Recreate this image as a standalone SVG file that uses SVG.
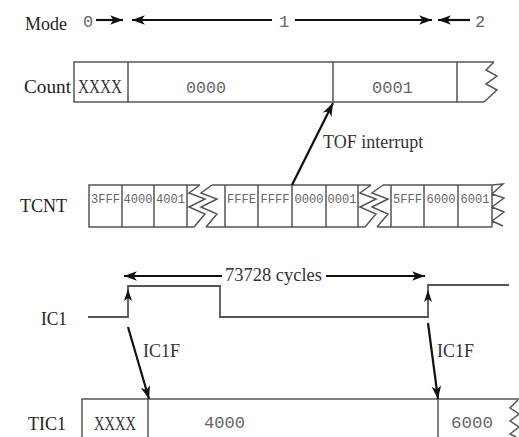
<svg xmlns="http://www.w3.org/2000/svg" width="519" height="437" viewBox="0 0 519 437">
<defs>
<marker id="ah" viewBox="-14 -6 15 12" refX="0" refY="0" markerWidth="15" markerHeight="12" markerUnits="userSpaceOnUse" orient="auto">
<path d="M0,0 L-13,-4.8 L-9.5,0 L-13,4.8 Z" fill="#111"/>
</marker>
</defs>
<style>
.lab{font-family:"Liberation Serif","Times New Roman",serif;font-size:19px;fill:#222}
.ser{font-family:"Liberation Serif","Times New Roman",serif;font-size:18px;fill:#333}
.mono{font-family:"Liberation Mono","Courier New",monospace;font-size:17px;fill:#666}
.sm{font-family:"Liberation Mono","Courier New",monospace;font-size:13px;fill:#666;text-anchor:middle}
.box{fill:none;stroke:#555;stroke-width:1.5}
.arr{fill:none;stroke:#111;stroke-width:2.2;marker-end:url(#ah)}
.wave{fill:none;stroke:#555;stroke-width:1.8}
</style>
<rect width="519" height="437" fill="#fff"/>

<g id="mode">
<text class="lab" x="25" y="30" textLength="42" lengthAdjust="spacingAndGlyphs">Mode</text>
<text class="mono" x="83" y="27" font-size="16">0</text>
<text class="mono" x="279" y="27" font-size="16">1</text>
<text class="mono" x="475" y="27" font-size="16">2</text>
</g>

<g id="count">
<text class="lab" x="24" y="93" textLength="47" lengthAdjust="spacingAndGlyphs">Count</text>
<path class="box" d="M494,62 H74 V102 H484 M128,62 V102 M333,62 V102 M457,62 V102 M494,62 L486,70 L497,76 L486,84 L497,90 L484,102"/>
<text class="ser" x="78" y="93" textLength="44" lengthAdjust="spacingAndGlyphs">XXXX</text>
<text class="mono" x="186" y="93" textLength="40" lengthAdjust="spacingAndGlyphs">0000</text>
<text class="mono" x="372" y="93" textLength="41" lengthAdjust="spacingAndGlyphs">0001</text>
</g>

<g id="tcnt">
<text class="lab" x="20" y="212" textLength="47" lengthAdjust="spacingAndGlyphs">TCNT</text>
<path class="box" d="M200,185 H89 V227 H194 M122,185 V227 M154,185 V227 M187,185 V227
M200,185 L189,193 L205,199 L189,207 L205,214 L194,227
M212,185 L201,193 L217,199 L201,207 L217,214 L206,227
M212,185 H371 M206,227 H365 M225,185 V227 M258,185 V227 M292,185 V227 M326,185 V227 M358,185 V227
M371,185 L360,193 L376,199 L360,207 L376,214 L365,227
M383,185 L372,193 L388,199 L372,207 L388,214 L377,227
M383,185 H492 M377,227 H492 M391,185 V227 M424,185 V227 M458,185 V227 M492,185 V227
M492,185 L503,184 L492,194 L504,198 L492,207 L504,212 L492,221 L503,226"/>
<text class="sm" x="105.5" y="203" textLength="29" lengthAdjust="spacingAndGlyphs">3FFF</text>
<text class="sm" x="138" y="203" textLength="29" lengthAdjust="spacingAndGlyphs">4000</text>
<text class="sm" x="170.5" y="203" textLength="29" lengthAdjust="spacingAndGlyphs">4001</text>
<text class="sm" x="241.5" y="203" textLength="29" lengthAdjust="spacingAndGlyphs">FFFE</text>
<text class="sm" x="275" y="203" textLength="29" lengthAdjust="spacingAndGlyphs">FFFF</text>
<text class="sm" x="309" y="203" textLength="29" lengthAdjust="spacingAndGlyphs">0000</text>
<text class="sm" x="342" y="203" textLength="29" lengthAdjust="spacingAndGlyphs">0001</text>
<text class="sm" x="407.5" y="203" textLength="29" lengthAdjust="spacingAndGlyphs">5FFF</text>
<text class="sm" x="441" y="203" textLength="29" lengthAdjust="spacingAndGlyphs">6000</text>
<text class="sm" x="475" y="203" textLength="29" lengthAdjust="spacingAndGlyphs">6001</text>
</g>

<g id="ic1">
<text class="lab" x="41" y="325" textLength="26" lengthAdjust="spacingAndGlyphs">IC1</text>
<path class="wave" d="M88,317 H128 V286 H220 V317 H428 V285 H509"/>
<path d="M128,289 L124,301 L128,298 L132,301 Z" fill="#111"/>
<path d="M428,290 L424,302 L428,299 L432,302 Z" fill="#111"/>
</g>

<g id="tic1">
<text class="lab" x="28" y="430" textLength="38" lengthAdjust="spacingAndGlyphs">TIC1</text>
<path class="box" d="M82,437 V399 H519 M148,399 V437 M438,399 V437 M518,400 L510,408 L519,414 L510,421 L519,427 L510,434 L516,437"/>
<text class="ser" x="94" y="430" textLength="42" lengthAdjust="spacingAndGlyphs">XXXX</text>
<text class="mono" x="204" y="428" textLength="41" lengthAdjust="spacingAndGlyphs">4000</text>
<text class="mono" x="451" y="428" textLength="42" lengthAdjust="spacingAndGlyphs">6000</text>
</g>

<g id="connectors">
<line class="arr" x1="96" y1="20" x2="123" y2="20"/>
<line class="arr" x1="272" y1="20" x2="132" y2="20"/>
<line class="arr" x1="295" y1="20" x2="432" y2="20"/>
<line class="arr" x1="470" y1="20" x2="438" y2="20"/>
<line class="arr" x1="292" y1="185" x2="333" y2="103"/>
<text class="ser" x="323" y="148">TOF interrupt</text>
<line class="arr" x1="222" y1="276" x2="124" y2="276"/>
<line class="arr" x1="326" y1="276" x2="425" y2="276"/>
<text class="ser" x="225" y="281" textLength="97" lengthAdjust="spacingAndGlyphs">73728 cycles</text>
<line class="arr" x1="128" y1="327" x2="149" y2="399"/>
<text class="ser" x="143" y="357">IC1F</text>
<line class="arr" x1="428" y1="323" x2="438" y2="399"/>
<text class="ser" x="437" y="357">IC1F</text>
</g>
</svg>
